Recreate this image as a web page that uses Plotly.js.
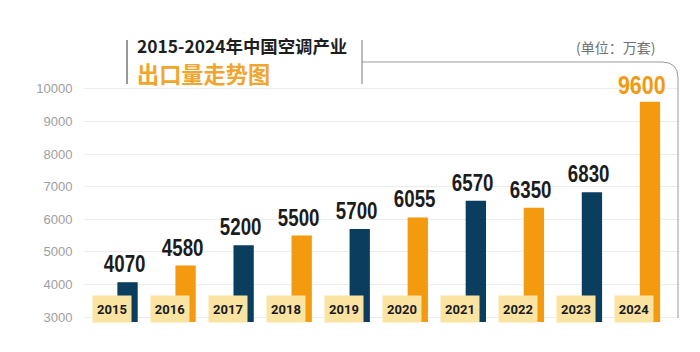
<!DOCTYPE html>
<html><head><meta charset="utf-8">
<script src="https://cdn.plot.ly/plotly-3.0.1.min.js"></script>
<style>html,body{margin:0;padding:0;background:#fff;}#c{width:700px;height:352px;}</style>
</head><body><div id="c"></div>
<script>
const years = ['2015','2016','2017','2018','2019','2020','2021','2022','2023','2024'];
const exportVolume = [4070, 4580, 5200, 5500, 5700, 6055, 6570, 6350, 6830, 9600];
const barColors = ['#0b3d5e','#f39a0e','#0b3d5e','#f39a0e','#0b3d5e','#f39a0e','#0b3d5e','#f39a0e','#0b3d5e','#f39a0e'];
const yTicks = [3000,4000,5000,6000,7000,8000,9000,10000];
const titleLine1 = '2015-2024年中国空调产业';
const titleLine2 = '出口量走势图';
const unitText = '(单位：万套)';

const yBase = 2850;
const numFont = '"Liberation Sans", Arial, sans-serif';

const trace = {
  type: 'bar',
  x: years.map((_, i) => i),
  y: exportVolume.map(v => v - yBase),
  base: yBase,
  marker: {color: barColors},
  width: 0.35,
  hoverinfo: 'skip'
};

const annotations = [];
const valueIdx = [];
years.forEach((yr, i) => {
  const last = i === years.length - 1;
  valueIdx.push(annotations.length);
  annotations.push({
    x: i, y: exportVolume[i], xref: 'x', yref: 'y',
    text: '<b>' + exportVolume[i] + '</b>',
    showarrow: false, yanchor: 'bottom', yshift: last ? 1 : 3, xshift: last ? -8 : -3,
    font: {family: numFont, size: last ? 25 : 24, color: last ? '#f39a0e' : '#1c1c1c'}
  });
  annotations.push({
    x: i, y: 3000, xref: 'x', yref: 'y',
    text: '<b>' + yr + '</b>',
    showarrow: false, yanchor: 'middle', yshift: 8, xshift: -16,
    width: 36, height: 24, bgcolor: '#fbe3a2',
    font: {family: 'Roboto, Arial, sans-serif', size: 13, color: '#1a1a1a'}
  });
});
function px(x){ return (x-84)/595; }
function py(y){ return (352-30-y)/256; }

annotations.push({
  xref: 'paper', yref: 'paper', x: px(135), y: py(45), xanchor: 'left', yanchor: 'middle',
  text: '<b>' + titleLine1 + '</b>', showarrow: false,
  font: {family: '"Noto Sans CJK SC", sans-serif', size: 17.4, color: '#1e1e1e'}
});
annotations.push({
  xref: 'paper', yref: 'paper', x: px(135), y: py(73), xanchor: 'left', yanchor: 'middle',
  text: '<b>' + titleLine2 + '</b>', showarrow: false,
  font: {family: '"Noto Sans CJK SC", sans-serif', size: 22.2, color: '#f2a52c'}
});
annotations.push({
  xref: 'paper', yref: 'paper', x: px(657), y: py(47), xanchor: 'right', yanchor: 'middle',
  text: unitText, showarrow: false,
  font: {family: '"Noto Sans CJK SC", sans-serif', size: 14, color: '#707070'}
});

const shapes = [
  {type:'line', xref:'paper', yref:'paper', x0:px(127), x1:px(127), y0:py(40), y1:py(84), line:{color:'#555', width:1.2}},
  {type:'line', xref:'paper', yref:'paper', x0:px(362), x1:px(362), y0:py(40), y1:py(84), line:{color:'#777', width:1}},
  {type:'path', xref:'paper', yref:'paper',
   path: 'M '+px(362)+' '+py(62)+' L '+px(662)+' '+py(62)+' Q '+px(678)+' '+py(62)+' '+px(678)+' '+py(78)+' L '+px(678)+' '+py(318),
   line:{color:'#999', width:1}}
];

const layout = {
  width: 700, height: 352,
  margin: {l: 84, r: 21, t: 66, b: 30},
  paper_bgcolor: '#fff', plot_bgcolor: '#fff',
  showlegend: false,
  xaxis: {range: [-0.75, 9.5], showticklabels: false, showgrid: false, zeroline: false, showline: false, ticks: ''},
  yaxis: {range: [yBase, 10700], tickvals: yTicks, ticktext: yTicks.map(String), showgrid: true, gridcolor: '#ececec', gridwidth: 1,
          zeroline: false, showline: false, ticks: 'outside', ticklen: 8, tickcolor: 'rgba(0,0,0,0)',
          tickfont: {family: 'Arial, "Liberation Sans", sans-serif', size: 13, color: '#9e9e9e'}},
  annotations: annotations,
  shapes: shapes
};

Plotly.newPlot('c', [trace], layout, {staticPlot: true, displayModeBar: false}).then(function(gd){
  const groups = gd.querySelectorAll('g.annotation');
  groups.forEach(function(g){
    const idx = +g.getAttribute('data-index');
    if (valueIdx.indexOf(idx) >= 0) {
      const t = g.querySelector('text.annotation-text');
      if (t) {
        const last = idx === valueIdx[valueIdx.length-1];
        t.style.transformBox = 'fill-box';
        t.style.transformOrigin = 'center';
        t.style.transform = 'scaleX(' + (last ? 0.86 : 0.78) + ')';
      }
    }
  });
});
</script>
</body></html>
